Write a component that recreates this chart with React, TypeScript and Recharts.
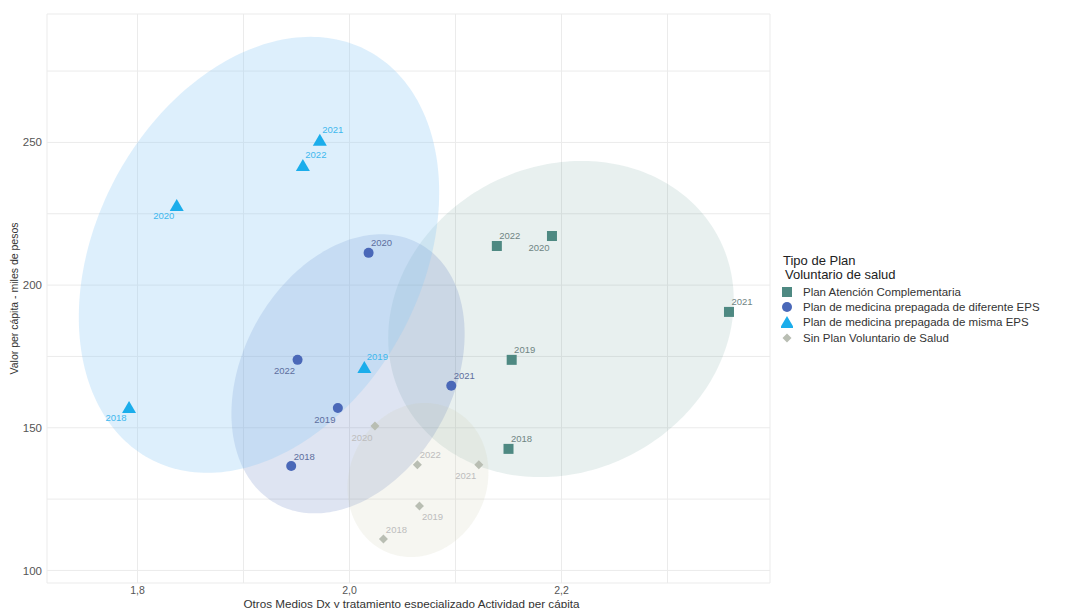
import React from "react";
import { ComposedChart, Scatter, Area, XAxis, YAxis, CartesianGrid } from "recharts";

const YEARS = ["2018", "2019", "2020", "2021", "2022"];

const PLANS = [
  "Plan Atención Complementaria",
  "Plan de medicina prepagada de diferente EPS",
  "Plan de medicina prepagada de misma EPS",
  "Sin Plan Voluntario de Salud",
];

// actividad per cápita (x) y valor per cápita (y), por año 2018..2022
const COMP_X = [2.150, 2.153, 2.191, 2.358, 2.139];
const COMP_Y = [142.6, 173.8, 217.2, 190.6, 213.7];
const DIF_X = [1.945, 1.989, 2.018, 2.096, 1.951];
const DIF_Y = [136.6, 156.9, 211.3, 164.7, 173.8];
const MISMA_X = [1.792, 2.014, 1.837, 1.972, 1.956];
const MISMA_Y = [157.3, 171.3, 228.1, 250.9, 242.1];
const SIN_X = [2.032, 2.066, 2.024, 2.122, 2.064];
const SIN_Y = [111.0, 122.6, 150.6, 137.0, 137.0];

// ellipses: center x, center y, half width, half height, tilt phase
const ELLIPSE_COMP = [2.1995, 188.1, 0.163, 55.4, 0.12];
const ELLIPSE_DIF = [1.9986, 168.9, 0.110, 48.9, 0.29];
const ELLIPSE_MISMA = [1.9146, 210.6, 0.170, 76.4, 0.29];
const ELLIPSE_SIN = [2.0646, 131.7, 0.0665, 27.0, 0.1];

const X_TICKS = [1.8, 1.9, 2.0, 2.1, 2.2, 2.3];
const X_LABELED = [1.8, 2.0, 2.2];
const Y_TICKS = [100, 125, 150, 175, 200, 225, 250, 275];
const Y_LABELED = [100, 150, 200, 250];

const X_TITLE = "Otros Medios Dx y tratamiento especializado Actividad per cápita";
const Y_TITLE = "Valor per cápita - miles de pesos";

// where ggrepel put each year label: ne / sw / se
const LABEL_SIDE: Record<string, string[]> = {
  comp: ["ne", "ne", "sw", "ne", "ne"],
  dif: ["ne", "sw", "ne", "ne", "sw"],
  misma: ["sw", "ne", "sw", "ne", "ne"],
  sin: ["ne", "se", "sw", "sw", "ne"],
};

const FONT = "'Liberation Sans', Arial, sans-serif";

const STYLE = {
  comp: { color: "#4E8982", label: "#6F8583", fill: "#4A8A85", alpha: 0.13 },
  dif: { color: "#4A68B8", label: "#5D6E9E", fill: "#4A67B5", alpha: 0.18 },
  misma: { color: "#1BADEB", label: "#3DB8EE", fill: "#8FCBF5", alpha: 0.3 },
  sin: { color: "#B9BEB3", label: "#BDBDBD", fill: "#C8C8AA", alpha: 0.17 },
};

type Key = keyof typeof STYLE;

const toPoints = (xs: number[], ys: number[]) =>
  YEARS.map((year, i) => ({ x: xs[i], y: ys[i], year, i }));

function ellipseBand(e: number[], n = 120) {
  const [cx, cy, rx, ry, phi] = e;
  const pts: { x: number; band: [number, number] }[] = [];
  for (let k = 0; k <= n; k++) {
    const t = Math.PI * (1 - k / n);
    const x = cx + rx * Math.cos(t);
    const y1 = cy + ry * Math.sin(t + phi);
    const y2 = cy + ry * Math.sin(-t + phi);
    pts.push({ x, band: [Math.min(y1, y2), Math.max(y1, y2)] });
  }
  return pts;
}

function Marker({ kind, x, y, color }: { kind: Key; x: number; y: number; color: string }) {
  if (kind === "comp") return <rect x={x - 5} y={y - 5} width={10} height={10} fill={color} />;
  if (kind === "dif") return <circle cx={x} cy={y} r={5} fill={color} />;
  if (kind === "misma")
    return <polygon points={`${x - 7},${y + 6} ${x + 7},${y + 6} ${x},${y - 6}`} fill={color} />;
  return <polygon points={`${x},${y - 4.5} ${x + 4.5},${y} ${x},${y + 4.5} ${x - 4.5},${y}`} fill={color} />;
}

const makeShape = (kind: Key) => (props: any) => {
  const { cx, cy, payload } = props;
  const side = LABEL_SIDE[kind][payload.i];
  const dx = side === "sw" ? -13 : 13;
  const dy = side === "ne" ? -10 : 11;
  return (
    <g>
      <Marker kind={kind} x={cx} y={cy} color={STYLE[kind].color} />
      <text
        x={cx + dx}
        y={cy + dy}
        textAnchor="middle"
        dominantBaseline="central"
        fontSize={9.5}
        fontFamily={FONT}
        fill={STYLE[kind].label}
      >
        {payload.year}
      </text>
    </g>
  );
};

const SERIES: { kind: Key; data: ReturnType<typeof toPoints>; ellipse: number[] }[] = [
  { kind: "comp", data: toPoints(COMP_X, COMP_Y), ellipse: ELLIPSE_COMP },
  { kind: "dif", data: toPoints(DIF_X, DIF_Y), ellipse: ELLIPSE_DIF },
  { kind: "misma", data: toPoints(MISMA_X, MISMA_Y), ellipse: ELLIPSE_MISMA },
  { kind: "sin", data: toPoints(SIN_X, SIN_Y), ellipse: ELLIPSE_SIN },
];

const fmtX = (v: number) =>
  X_LABELED.some((t) => Math.abs(t - v) < 1e-6) ? v.toFixed(1).replace(".", ",") : "";
const fmtY = (v: number) => (Y_LABELED.includes(v) ? String(v) : "");

const XTitle = (props: any) => {
  const vb = props.viewBox;
  return (
    <text
      x={vb.x + vb.width / 2 + 3}
      y={vb.y + vb.height - 0.5}
      textAnchor="middle"
      fontSize={10}
      fontFamily={FONT}
      fill="#333"
      textLength={336}
      lengthAdjust="spacingAndGlyphs"
    >
      {X_TITLE}
    </text>
  );
};

const YTitle = (props: any) => {
  const vb = props.viewBox;
  const cy = vb.y + vb.height / 2;
  return (
    <text
      x={6}
      y={cy}
      transform={`rotate(-90, 6, ${cy})`}
      textAnchor="middle"
      dominantBaseline="central"
      fontSize={10}
      fontFamily={FONT}
      fill="#333"
      textLength={152}
      lengthAdjust="spacingAndGlyphs"
    >
      {Y_TITLE}
    </text>
  );
};

function LegendBox() {
  return (
    <div
      style={{
        position: "absolute",
        left: 773,
        top: 246,
        fontFamily: FONT,
        color: "#222",
        whiteSpace: "nowrap",
      }}
    >
      <div style={{ fontSize: 13, lineHeight: "14px", paddingLeft: 2 }}>Tipo de Plan</div>
      <div style={{ fontSize: 13, lineHeight: "14px", paddingLeft: 4 }}>Voluntario de salud</div>
      <div style={{ marginTop: 2 }}>
        {SERIES.map((s, i) => (
          <div key={s.kind} style={{ display: "flex", alignItems: "center", height: 15.4 }}>
            <svg width={12} height={12} style={{ flex: "none" }}>
              <Marker kind={s.kind} x={6} y={6} color={STYLE[s.kind].color} />
            </svg>
            <span style={{ fontSize: 11.5, color: "#333", marginLeft: 10 }}>{PLANS[i]}</span>
          </div>
        ))}
      </div>
    </div>
  );
}

export default function App() {
  return (
    <div style={{ position: "relative", width: 1062, height: 600, background: "#fff" }}>
      <ComposedChart width={1062} height={600} margin={{ top: 6, right: 300, bottom: 0, left: 0 }}>
        <CartesianGrid stroke="#EBEBEB" strokeWidth={1} />
        <XAxis
          dataKey="x"
          type="number"
          domain={[1.7146, 2.3967]}
          allowDataOverflow
          ticks={X_TICKS}
          tickFormatter={fmtX}
          axisLine={false}
          tickLine={false}
          tickSize={0}
          tickMargin={4}
          height={25}
          tick={{ fontSize: 10.5, fill: "#555", fontFamily: FONT }}
          label={XTitle}
        />
        <YAxis
          type="number"
          domain={[95.6, 295]}
          allowDataOverflow
          ticks={Y_TICKS}
          tickFormatter={fmtY}
          axisLine={false}
          tickLine={false}
          tickSize={0}
          tickMargin={5}
          width={39}
          tick={{ fontSize: 11.5, fill: "#555", fontFamily: FONT }}
          label={YTitle}
        />
        {SERIES.map((s) => (
          <Area
            key={`e-${s.kind}`}
            data={ellipseBand(s.ellipse)}
            dataKey="band"
            type="linear"
            stroke="none"
            fill={STYLE[s.kind].fill}
            fillOpacity={STYLE[s.kind].alpha}
            dot={false}
            activeDot={false}
            isAnimationActive={false}
          />
        ))}
        {SERIES.map((s) => (
          <Scatter
            key={`p-${s.kind}`}
            data={s.data}
            dataKey="y"
            shape={makeShape(s.kind)}
            isAnimationActive={false}
          />
        ))}
      </ComposedChart>
      <LegendBox />
    </div>
  );
}
